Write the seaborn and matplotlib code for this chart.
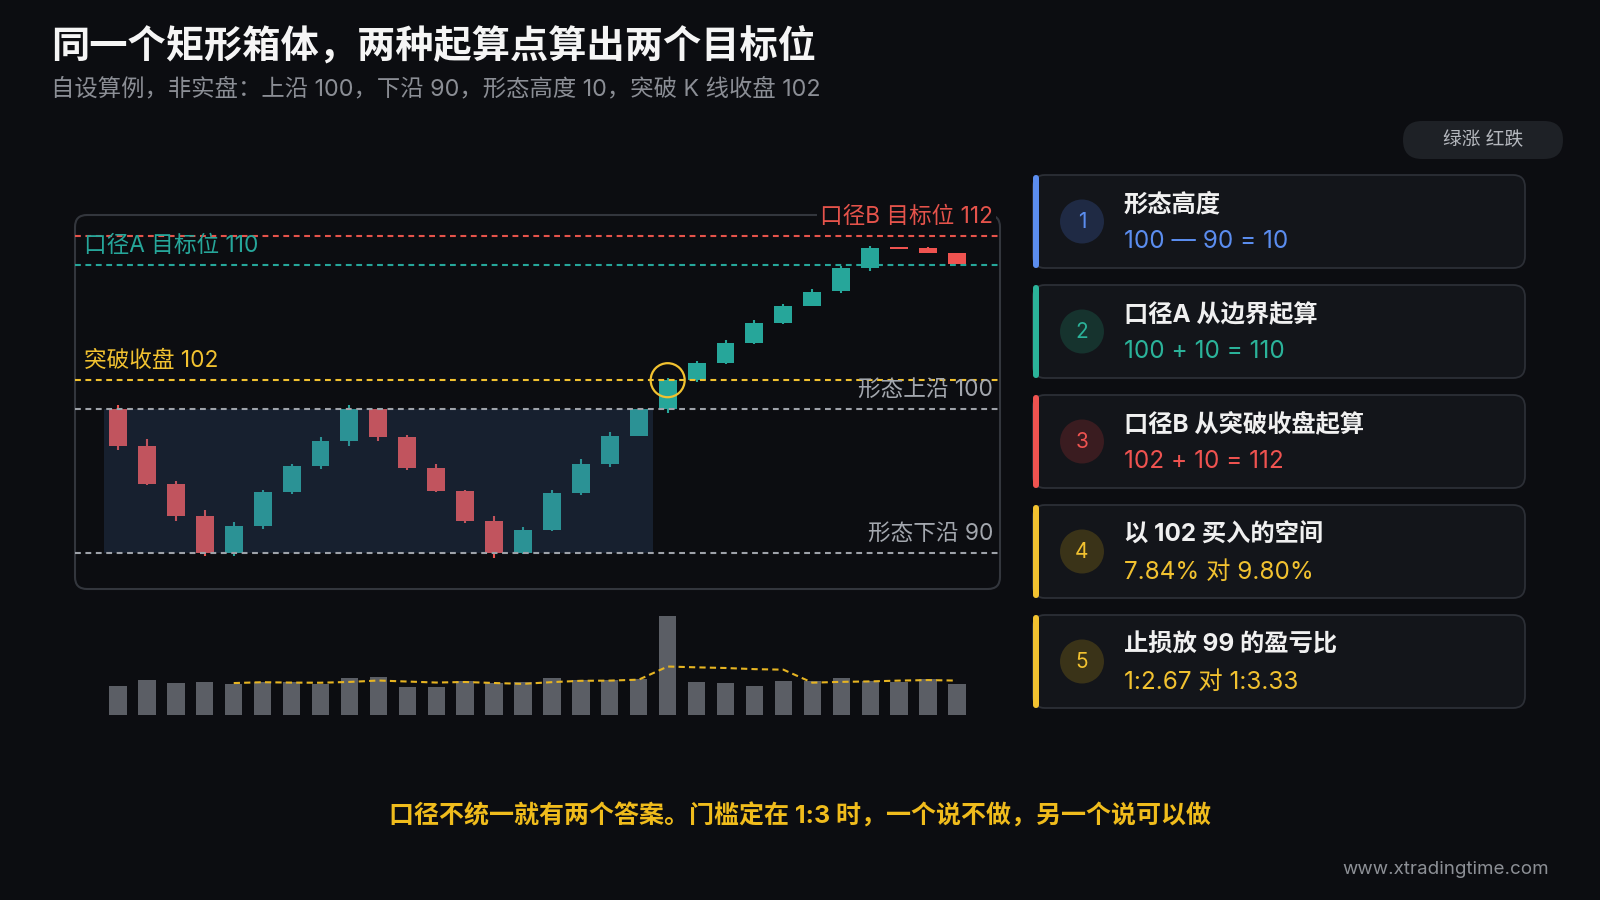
import numpy as np
import pandas as pd
import matplotlib
matplotlib.use("Agg")
import matplotlib.pyplot as plt
from matplotlib.patches import FancyBboxPatch, Circle
import seaborn as sns

# ---------------- data ----------------
idx = list(range(30))
opens  = [100.0, 97.45, 94.8, 92.55, 90.0, 91.85, 94.25, 96.05, 97.8, 100.0,
          98.05, 95.9, 94.3, 92.25, 90.0, 91.6, 94.2, 96.2, 98.15, 100.0,
          102.0, 103.2, 104.6, 106.0, 107.15, 108.2, 109.8, 111.2, 111.2, 110.8]
highs  = [100.25, 97.9, 95.0, 93.0, 92.15, 94.4, 96.2, 98.05, 100.3, 100.05,
          98.2, 96.15, 94.4, 92.55, 91.8, 94.35, 96.5, 98.4, 100.05, 102.15,
          103.35, 104.8, 106.2, 107.3, 108.3, 109.95, 111.3, 111.22, 111.25, 110.85]
lows   = [97.15, 94.7, 92.25, 89.8, 89.8, 91.7, 94.1, 95.8, 97.45, 97.8,
          95.75, 94.25, 92.1, 89.65, 89.95, 91.5, 94.05, 95.95, 98.1, 99.7,
          101.9, 103.1, 104.5, 105.9, 107.15, 108.05, 109.6, 111.1, 110.8, 110.05]
closes = [97.45, 94.8, 92.55, 90.0, 91.85, 94.25, 96.05, 97.8, 100.0, 98.05,
          95.9, 94.3, 92.25, 90.0, 91.6, 94.2, 96.2, 98.15, 100.0, 102.0,
          103.2, 104.6, 106.0, 107.15, 108.15, 109.8, 111.2, 111.12, 110.85, 110.05]
volumes = [87, 106, 96, 98, 92, 100, 100, 94, 110, 113, 85, 85, 102, 95, 100,
           111, 105, 105, 109, 297, 99, 95, 88, 101, 102, 111, 102, 100, 109, 94]

upper_edge, lower_edge = 100, 90
breakout_close = 102
target_a, target_b = 110, 112
breakout_idx = 19
box_first, box_last = 0, 18

card_titles = ["形态高度", "口径A 从边界起算", "口径B 从突破收盘起算", "以 102 买入的空间", "止损放 99 的盈亏比"]
card_values = ["100 — 90 = 10", "100 + 10 = 110", "102 + 10 = 112", "7.84% 对 9.80%", "1:2.67 对 1:3.33"]
card_nums = ["1", "2", "3", "4", "5"]

title = "同一个矩形箱体，两种起算点算出两个目标位"
subtitle = "自设算例，非实盘：上沿 100，下沿 90，形态高度 10，突破 K 线收盘 102"
badge = "绿涨 红跌"
footer = "口径不统一就有两个答案。门槛定在 1:3 时，一个说不做，另一个说可以做"
site = "www.xtradingtime.com"

# ---------------- style ----------------
BG = "#0c0d11"
TEAL = "#26a69a"
RED = "#ef5350"
YELLOW = "#f2c230"
BLUE = "#5b8def"
GRAYL = "#9ea2a9"

sns.set_theme(style="dark")
plt.rcParams["font.family"] = ["Inter", "Noto Sans CJK SC", "DejaVu Sans"]
plt.rcParams["figure.facecolor"] = BG
plt.rcParams["axes.facecolor"] = BG

fig = plt.figure(figsize=(16, 9), dpi=100)
W, H = 1600, 900

def rect(l, t, w, h):
    return [l / W, 1 - (t + h) / H, w / W, h / H]

# overlay axes in pixel coordinates
bg = fig.add_axes([0, 0, 1, 1], zorder=0)
bg.set_xlim(0, W)
bg.set_ylim(H, 0)
bg.axis("off")
bg.set_facecolor(BG)

# ---------------- candle chart ----------------
px_per_bar = 28.93
x_left = -(118 - 75) / px_per_bar
x_right = x_left + 925 / px_per_bar

ax = fig.add_axes(rect(75, 215, 925, 374), zorder=2)
ax.set_facecolor("none")
ax.set_xlim(x_left, x_right)
ax.set_ylim(87.5, 87.5 + 374 / 14.4)
ax.axis("off")

o = np.array(opens); c = np.array(closes)
up = c >= o
cols = np.where(up, TEAL, RED)
ax.vlines(idx, lows, highs, colors=cols, lw=1.5, zorder=3)
body = np.maximum(np.abs(c - o), 0.12)
ax.bar(idx, body, bottom=np.minimum(o, c), width=0.62, color=cols, zorder=4, lw=0)

# consolidation box
ax.fill_between([box_first - 0.5, box_last + 0.5], lower_edge, upper_edge,
                color="#3b5a8a", alpha=0.25, lw=0, zorder=5)

dash = (0, (2.8, 2.2))
ax.axhline(target_b, color="#e5534b", lw=1.5, ls=dash, zorder=6)
ax.axhline(target_a, color=TEAL, lw=1.5, ls=dash, zorder=6)
ax.axhline(breakout_close, color=YELLOW, lw=1.5, ls=dash, zorder=6)
ax.axhline(upper_edge, color=GRAYL, lw=1.5, ls=dash, zorder=6)
ax.axhline(lower_edge, color=GRAYL, lw=1.5, ls=dash, zorder=6)

ax.scatter([breakout_idx], [breakout_close], s=600, facecolors="none",
           edgecolors=YELLOW, linewidths=1.6, zorder=8)

def level_label(text, y, color, side, box=False):
    if side == "left":
        xa, dx, ha = 0, 9, "left"
    else:
        xa, dx, ha = 1, -7, "right"
    kw = {}
    if box:
        kw["bbox"] = dict(boxstyle="square,pad=0.15", fc=BG, ec="none")
    ax.annotate(text, xy=(xa, y), xycoords=("axes fraction", "data"),
                xytext=(dx, 19), textcoords="offset pixels", ha=ha, va="center",
                color=color, fontsize=16.3, zorder=9, annotation_clip=False, **kw)

level_label(f"口径B 目标位 {target_b}", target_b, "#e5534b", "right", box=True)
level_label(f"口径A 目标位 {target_a}", target_a, TEAL, "left")
level_label(f"突破收盘 {breakout_close}", breakout_close, YELLOW, "left")
level_label(f"形态上沿 {upper_edge}", upper_edge, "#a3a7ae", "right")
level_label(f"形态下沿 {lower_edge}", lower_edge, "#a3a7ae", "right")

# ---------------- volume ----------------
axv = fig.add_axes(rect(75, 615, 925, 100), zorder=2)
axv.set_facecolor("none")
vol_df = pd.DataFrame({"i": idx, "v": volumes})
vol_df["ma"] = vol_df["v"].rolling(5).mean()
sns.barplot(data=vol_df, x="i", y="v", native_scale=True, width=0.6,
            color="#5b5e65", saturation=1, ax=axv, zorder=2,
            edgecolor="none", linewidth=0)
axv.plot(vol_df["i"], vol_df["ma"], color="#e6b422", lw=1.5, ls=(0, (3, 2)), zorder=3)
axv.set_xlim(x_left, x_right)
axv.set_ylim(0, 300)
axv.axis("off")

# panel border
bg.add_patch(FancyBboxPatch((75, 215), 925, 374, boxstyle="round,pad=0,rounding_size=12",
                            fc="none", ec="#33363d", lw=1.5))

# ---------------- titles ----------------
bg.text(51, 46, title, color="#f5f5f5", fontsize=27.5, fontweight="bold", va="center", ha="left")
bg.text(51, 89, subtitle, color="#8b8e95", fontsize=16.8, va="center", ha="left")

bg.add_patch(FancyBboxPatch((1403, 121), 160, 38, boxstyle="round,pad=0,rounding_size=19",
                            fc="#1e2126", ec="none"))
bg.text(1483, 140, badge, color="#b5b8be", fontsize=13.5, ha="center", va="center")

# ---------------- cards ----------------
accents = [BLUE, "#2bb39a", "#ef5350", "#f2c230", "#f2c230"]
badge_fill = ["#1f2a44", "#16332e", "#3a1c20", "#3a3318", "#3a3318"]
for k in range(5):
    top = 175 + 110 * k
    bg.add_patch(FancyBboxPatch((1033, top), 492, 93, boxstyle="round,pad=0,rounding_size=12",
                                fc="#13151a", ec="#2c2f36", lw=1.3))
    bg.add_patch(FancyBboxPatch((1033, top), 6, 93, boxstyle="round,pad=0,rounding_size=3",
                                fc=accents[k], ec="none"))
    bg.add_patch(Circle((1082, top + 46.5), 22, fc=badge_fill[k], ec="none"))
    bg.text(1082, top + 47, card_nums[k], color=accents[k], fontsize=15, ha="center", va="center")
    bg.text(1124, top + 30, card_titles[k], color="#f0f0f0", fontsize=17.5,
            fontweight="bold", ha="left", va="center")
    bg.text(1124, top + 67, card_values[k], color=accents[k], fontsize=17.5,
            ha="left", va="center")

# ---------------- footer ----------------
bg.text(800, 816, footer, color="#f0bc1c", fontsize=18, fontweight="bold", ha="center", va="center")
bg.text(1549, 870, site, color="#8d9096", fontsize=13.5, ha="right", va="center")

fig.savefig("out.png", dpi=100, facecolor=BG)
